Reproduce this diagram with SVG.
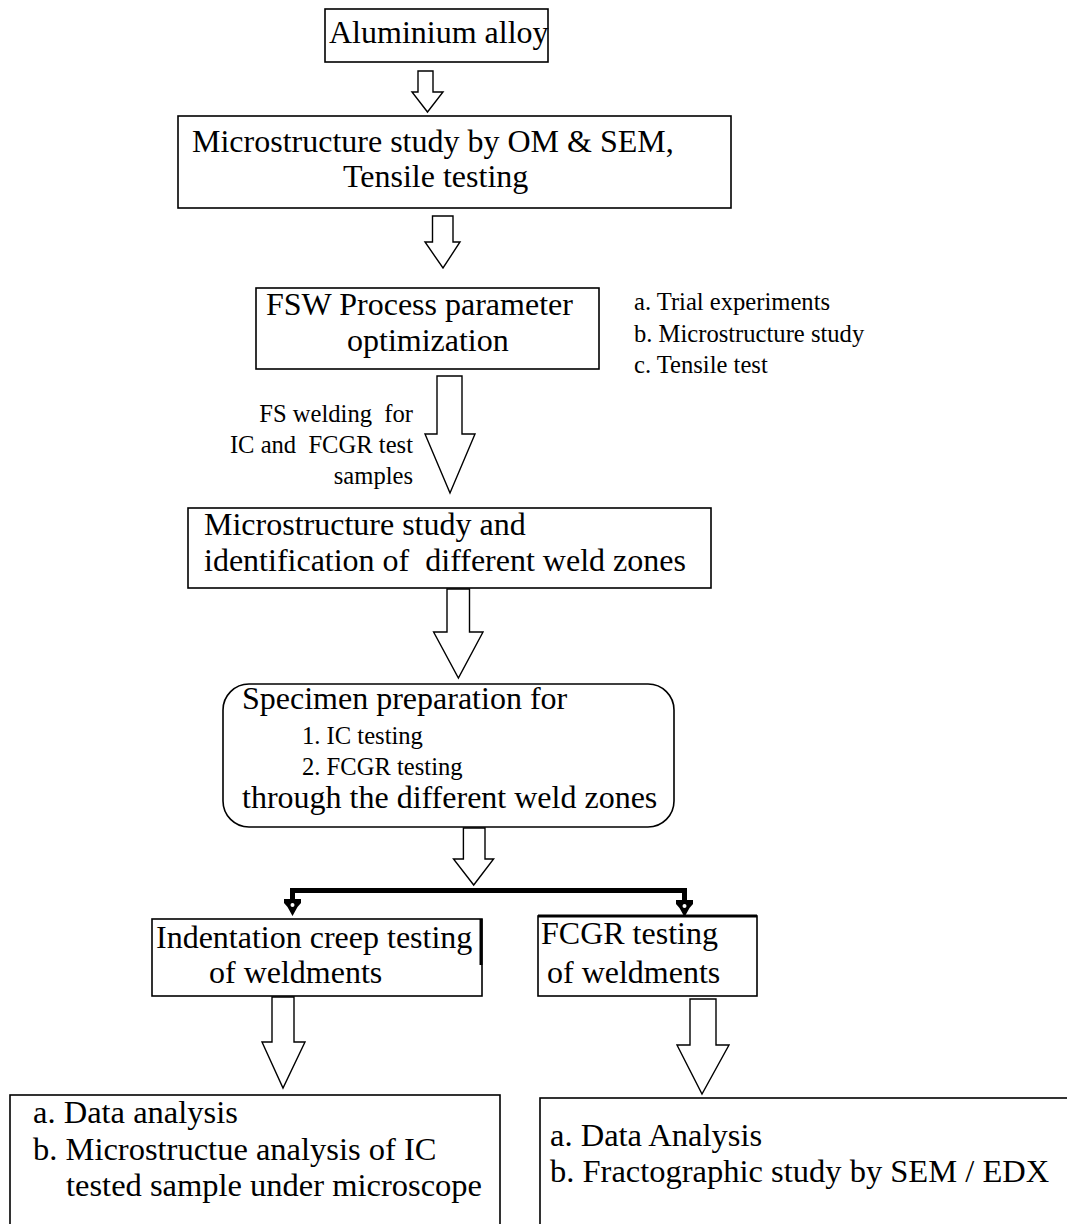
<svg xmlns="http://www.w3.org/2000/svg" width="1067" height="1224" viewBox="0 0 1067 1224">
<style>
.box{fill:#fff;stroke:#000;stroke-width:1.6}
.arr{fill:#fff;stroke:#000;stroke-width:1.4;stroke-linejoin:miter}
.t{font-family:"Liberation Serif","Times New Roman",serif;font-size:32px;fill:#000;white-space:pre}
.b{font-size:32.5px}
.s{font-family:"Liberation Serif","Times New Roman",serif;font-size:24.6px;fill:#000;white-space:pre}
.bar{stroke:#000;stroke-width:5;fill:none}
</style>
<defs>
<g id="drophead">
<path d="M-8.5,0 L8.5,0 L8.5,4 L5,8 L0,17 L-5,8 L-8.5,4 Z" fill="#000"/>
<circle cx="0" cy="6" r="2" fill="#fff"/>
</g>
</defs>
<rect width="1067" height="1224" fill="#fff"/>

<g id="connectors">
<path id="a1" class="arr" d="M418,71 L433,71 L433,92 L443,92 L427.5,112 L412,92 L418,92 Z"/>
<path id="a2" class="arr" d="M432.5,216 L453,216 L453,242 L460,242 L443,268 L425,242 L432.5,242 Z"/>
<path id="a3" class="arr" d="M437,376 L462,376 L462,434 L475,434 L450,493 L425,434 L437,434 Z"/>
<path id="a4" class="arr" d="M447,589 L469.5,589 L469.5,632 L483,632 L458.4,678 L433.6,632 L447,632 Z"/>
<path id="a5" class="arr" d="M463.4,828 L485,828 L485,859 L493.6,859 L473.7,885 L453.5,859 L463.4,859 Z"/>
<path id="bar" class="bar" d="M292.5,900 L292.5,890.5 L684.5,890.5 L684.5,901"/>
<use href="#drophead" x="292.5" y="899"/>
<use href="#drophead" x="684.5" y="900"/>
<path id="a6" class="arr" d="M272,997 L294,997 L294,1042 L305,1042 L283,1088 L262,1042 L272,1042 Z"/>
<path id="a7" class="arr" d="M690,999 L716,999 L716,1045 L729,1045 L702,1094 L677,1045 L690,1045 Z"/>
</g>

<g id="n1">
<rect class="box" x="325" y="9" width="223" height="53"/>
<text class="t" x="329" y="43">Aluminium alloy</text>
</g>
<g id="n2">
<rect class="box" x="178" y="116" width="553" height="92"/>
<text class="t" x="192" y="152">Microstructure study by OM &amp; SEM,</text>
<text class="t" x="343" y="187">Tensile testing</text>
</g>
<g id="n3">
<rect class="box" x="256" y="288" width="343" height="81"/>
<text class="t" x="266" y="315">FSW Process parameter</text>
<text class="t" x="347" y="351">optimization</text>
</g>
<g id="n3notes">
<text class="s" x="634" y="310">a. Trial experiments</text>
<text class="s" x="634" y="342">b. Microstructure study</text>
<text class="s" x="634" y="373">c. Tensile test</text>
</g>
<g id="a3label" text-anchor="end">
<text class="s" x="413" y="422" xml:space="preserve">FS welding  for</text>
<text class="s" x="413" y="453" xml:space="preserve">IC and  FCGR test</text>
<text class="s" x="413" y="484">samples</text>
</g>
<g id="n4">
<rect class="box" x="188" y="508" width="523" height="80"/>
<text class="t" x="204" y="535">Microstructure study and</text>
<text class="t" x="204" y="571" xml:space="preserve">identification of  different weld zones</text>
</g>
<g id="n5">
<rect class="box" x="223" y="684" width="451" height="143" rx="26" ry="26"/>
<text class="t" x="242" y="709">Specimen preparation for</text>
<text class="s" x="302" y="744">1. IC testing</text>
<text class="s" x="302" y="775">2. FCGR testing</text>
<text class="t" x="242" y="808">through the different weld zones</text>
</g>
<g id="n6">
<rect class="box" x="152" y="919" width="330" height="77"/>
<line x1="481" y1="919" x2="481" y2="965" stroke="#000" stroke-width="3"/>
<text class="t" x="156" y="948">Indentation creep testing</text>
<text class="t" x="209" y="983">of weldments</text>
</g>
<g id="n7">
<rect class="box" x="538" y="916" width="219" height="80"/>
<line x1="538" y1="916" x2="757" y2="916" stroke="#000" stroke-width="3"/>
<text class="t" x="541" y="944">FCGR testing</text>
<text class="t" x="547" y="983">of weldments</text>
</g>
<g id="n8">
<rect class="box" x="10" y="1095" width="490" height="140"/>
<text class="t b" x="33" y="1123">a. Data analysis</text>
<text class="t b" x="33" y="1160">b. Microstructue analysis of IC</text>
<text class="t b" x="66" y="1196">tested sample under microscope</text>
</g>
<g id="n9">
<rect class="box" x="540" y="1098" width="540" height="140"/>
<text class="t b" x="550" y="1146">a. Data Analysis</text>
<text class="t b" x="550" y="1182">b. Fractographic study by SEM / EDX</text>
</g>
</svg>
